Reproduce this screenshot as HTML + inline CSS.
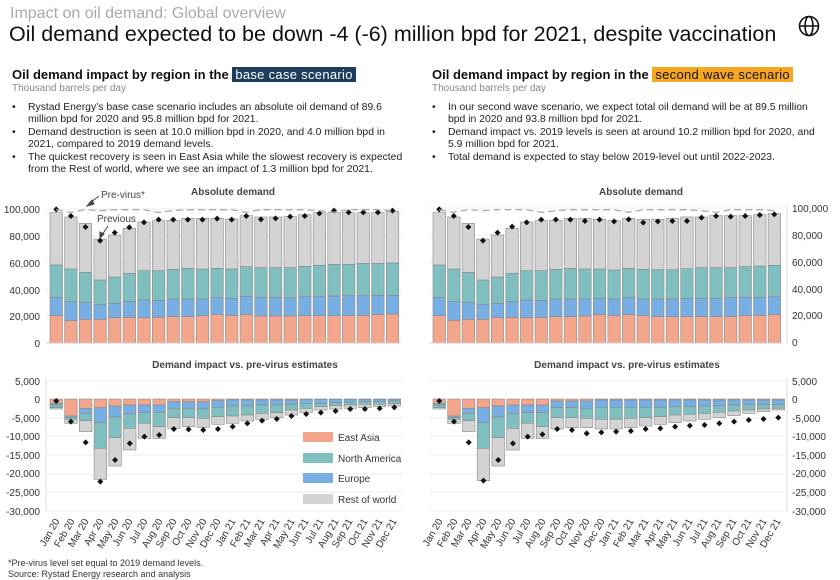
<!DOCTYPE html>
<html><head><meta charset="utf-8"><style>
body{margin:0;width:840px;height:580px;background:#fff;font-family:"Liberation Sans",Arial,sans-serif;overflow:hidden;position:relative}
.t{position:absolute;white-space:nowrap}
ul{margin:0;padding:0;list-style:none}
li{position:relative;padding-left:22px;font-size:10.4px;line-height:12.4px;color:#222}
li:before{content:"•";position:absolute;left:6px}
</style></head><body>
<div class="t" style="left:10px;top:5px;font-size:16px;color:#aaa">Impact on oil demand: Global overview</div>
<div class="t" style="left:9px;top:22px;font-size:21.5px;color:#111">Oil demand expected to be down -4 (-6) million bpd for 2021, despite vaccination</div>
<svg style="position:absolute;left:798px;top:15px" width="22" height="22" viewBox="0 0 22 22"><g fill="none" stroke="#111" stroke-width="1.6"><circle cx="11" cy="11" r="9.5"/><ellipse cx="11" cy="11" rx="4" ry="9.5"/><line x1="1.5" y1="11" x2="20.5" y2="11"/></g></svg>

<div class="t" style="left:12px;top:67px;font-size:13px;font-weight:bold;color:#111">Oil demand impact by region in the <span style="background:#1d3d5c;color:#fff;font-weight:normal;padding:0 3px;letter-spacing:0.3px">base case scenario</span></div>
<div class="t" style="left:12px;top:83px;font-size:10px;color:#888">Thousand barrels per day</div>
<ul style="position:absolute;left:6px;top:102px;width:400px">
<li>Rystad Energy’s base case scenario includes an absolute oil demand of 89.6 million bpd for 2020 and 95.8 million bpd for 2021.</li>
<li>Demand destruction is seen at 10.0 million bpd in 2020, and 4.0 million bpd in 2021, compared to 2019 demand levels.</li>
<li>The quickest recovery is seen in East Asia while the slowest recovery is expected from the Rest of world, where we see an impact of 1.3 million bpd for 2021.</li>
</ul>

<div class="t" style="left:432px;top:67px;font-size:13px;font-weight:bold;color:#111">Oil demand impact by region in the <span style="background:#f7a823;color:#111;font-weight:normal;padding:0 3px;letter-spacing:0.3px">second wave scenario</span></div>
<div class="t" style="left:432px;top:83px;font-size:10px;color:#888">Thousand barrels per day</div>
<ul style="position:absolute;left:426px;top:102px;width:400px">
<li>In our second wave scenario, we expect total oil demand will be at 89.5 million bpd in 2020 and 93.8 million bpd for 2021.</li>
<li>Demand impact vs. 2019 levels is seen at around 10.2 million bpd for 2020, and 5.9 million bpd for 2021.</li>
<li>Total demand is expected to stay below 2019-level out until 2022-2023.</li>
</ul>

<svg id="c" style="position:absolute;left:0;top:0" width="840" height="580" font-family="Liberation Sans, Arial, sans-serif">
<g id="bars"></g>
<g font-size="10" font-weight="bold" fill="#444" text-anchor="middle">
<text x="233" y="195">Absolute demand</text>
<text x="641" y="195">Absolute demand</text>
<text x="245" y="368">Demand impact vs. pre-virus estimates</text>
<text x="627" y="368">Demand impact vs. pre-virus estimates</text>
</g>
<g font-size="10" fill="#333" text-anchor="end">
<text x="40" y="213">100,000</text><text x="40" y="240">80,000</text><text x="40" y="267">60,000</text><text x="40" y="294">40,000</text><text x="40" y="320">20,000</text><text x="40" y="347">0</text>
<text x="40" y="385">5,000</text><text x="40" y="403">0</text><text x="40" y="422">-5,000</text><text x="40" y="440">-10,000</text><text x="40" y="459">-15,000</text><text x="40" y="477">-20,000</text><text x="40" y="496">-25,000</text><text x="40" y="515">-30,000</text>
</g>
<g font-size="10" fill="#333" text-anchor="start">
<text x="792" y="212">100,000</text><text x="792" y="239">80,000</text><text x="792" y="266">60,000</text><text x="792" y="293">40,000</text><text x="792" y="319">20,000</text><text x="792" y="346">0</text>
<text x="792" y="385">5,000</text><text x="792" y="403">0</text><text x="792" y="422">-5,000</text><text x="792" y="440">-10,000</text><text x="792" y="459">-15,000</text><text x="792" y="477">-20,000</text><text x="792" y="496">-25,000</text><text x="792" y="515">-30,000</text>
</g>
<g font-size="10" fill="#444">
<text x="101" y="198">Pre-virus*</text>
<text x="97" y="222">Previous</text>
</g>
<g stroke="#444" stroke-width="1" fill="#444">
<line x1="99" y1="196" x2="90" y2="203"/><polygon points="87,206 92,200 94,204"/>
<line x1="108" y1="226" x2="102" y2="235"/><polygon points="100,238 100,232 104,234"/>
</g>
<g font-size="10" fill="#333">
<rect x="303" y="432" width="30" height="10" fill="#f4a68c"/><text x="338" y="441">East Asia</text>
<rect x="303" y="453" width="30" height="10" fill="#7fbfbf"/><text x="338" y="462">North America</text>
<rect x="303" y="473" width="30" height="10" fill="#77aee3"/><text x="338" y="482">Europe</text>
<rect x="303" y="494" width="30" height="10" fill="#d3d3d3"/><text x="338" y="503">Rest of world</text>
</g>
<g font-size="10" fill="#333" text-anchor="end">
<text transform="translate(60,521) rotate(-60)">Jan 20</text><text transform="translate(75,521) rotate(-60)">Feb 20</text><text transform="translate(89,521) rotate(-60)">Mar 20</text><text transform="translate(104,521) rotate(-60)">Apr 20</text><text transform="translate(119,521) rotate(-60)">May 20</text><text transform="translate(133,521) rotate(-60)">Jun 20</text><text transform="translate(148,521) rotate(-60)">Jul 20</text><text transform="translate(163,521) rotate(-60)">Aug 20</text><text transform="translate(177,521) rotate(-60)">Sep 20</text><text transform="translate(192,521) rotate(-60)">Oct 20</text><text transform="translate(207,521) rotate(-60)">Nov 20</text><text transform="translate(221,521) rotate(-60)">Dec 20</text><text transform="translate(236,521) rotate(-60)">Jan 21</text><text transform="translate(251,521) rotate(-60)">Feb 21</text><text transform="translate(265,521) rotate(-60)">Mar 21</text><text transform="translate(280,521) rotate(-60)">Apr 21</text><text transform="translate(295,521) rotate(-60)">May 21</text><text transform="translate(309,521) rotate(-60)">Jun 21</text><text transform="translate(324,521) rotate(-60)">Jul 21</text><text transform="translate(339,521) rotate(-60)">Aug 21</text><text transform="translate(353,521) rotate(-60)">Sep 21</text><text transform="translate(368,521) rotate(-60)">Oct 21</text><text transform="translate(383,521) rotate(-60)">Nov 21</text><text transform="translate(397,521) rotate(-60)">Dec 21</text>
</g>
<g font-size="10" fill="#333" text-anchor="end">
<text transform="translate(443,521) rotate(-60)">Jan 20</text><text transform="translate(458,521) rotate(-60)">Feb 20</text><text transform="translate(472,521) rotate(-60)">Mar 20</text><text transform="translate(487,521) rotate(-60)">Apr 20</text><text transform="translate(502,521) rotate(-60)">May 20</text><text transform="translate(516,521) rotate(-60)">Jun 20</text><text transform="translate(531,521) rotate(-60)">Jul 20</text><text transform="translate(546,521) rotate(-60)">Aug 20</text><text transform="translate(561,521) rotate(-60)">Sep 20</text><text transform="translate(575,521) rotate(-60)">Oct 20</text><text transform="translate(590,521) rotate(-60)">Nov 20</text><text transform="translate(605,521) rotate(-60)">Dec 20</text><text transform="translate(619,521) rotate(-60)">Jan 21</text><text transform="translate(634,521) rotate(-60)">Feb 21</text><text transform="translate(649,521) rotate(-60)">Mar 21</text><text transform="translate(664,521) rotate(-60)">Apr 21</text><text transform="translate(678,521) rotate(-60)">May 21</text><text transform="translate(693,521) rotate(-60)">Jun 21</text><text transform="translate(708,521) rotate(-60)">Jul 21</text><text transform="translate(722,521) rotate(-60)">Aug 21</text><text transform="translate(737,521) rotate(-60)">Sep 21</text><text transform="translate(752,521) rotate(-60)">Oct 21</text><text transform="translate(767,521) rotate(-60)">Nov 21</text><text transform="translate(781,521) rotate(-60)">Dec 21</text>
</g>
<g font-size="9" fill="#333">
<text x="8" y="566">*Pre-virus level set equal to 2019 demand levels.</text>
<text x="8" y="577">Source: Rystad Energy research and analysis</text>
</g>
</svg>
<script>
(function(){
var NS="http://www.w3.org/2000/svg",G=document.getElementById("bars");
function el(t,a){var e=document.createElementNS(NS,t);for(var k in a)e.setAttribute(k,a[k]);G.appendChild(e);return e;}
var C=["#f4a68c","#77aee3","#7fbfbf","#d3d3d3"];
var TL=[[407,352,255,98,88],[422,365,267,111,108],[418,367,277,130,141],[418,373,300,177,182],[413,370,291,165,158],[412,364,280,145,142],[413,360,272,126,127],[412,361,272,122,119],[410,357,268,121,119],[410,357,265,115,119],[407,357,267,115,119],[404,353,265,115,116],[406,355,267,117,119],[404,349,260,107,108],[408,352,263,111,118],[408,352,263,111,115],[408,354,263,110,110],[407,350,259,104,108],[407,350,256,98,100],[407,348,253,98,92],[407,347,253,98,97],[406,347,250,98,97],[404,346,250,98,97],[402,346,249,94,92]];
var TR=[[407,352,255,98,88],[421,365,267,111,108],[418,367,277,130,141],[418,373,300,177,182],[413,370,291,165,158],[412,364,280,145,140],[413,360,272,126,127],[412,361,272,122,119],[410,357,268,121,119],[410,357,265,115,119],[408,357,267,115,123],[404,355,267,118,119],[406,357,270,122,124],[404,352,265,115,118],[407,357,268,118,128],[410,357,269,118,124],[410,357,269,115,123],[410,355,266,111,123],[410,355,263,111,113],[410,355,263,107,108],[410,353,263,107,110],[407,352,260,107,108],[406,352,258,104,105],[404,350,256,101,103]];
var BL=[[145,150,158,162,138],[183,188,193,205,200],[160,175,197,230,262],[158,203,280,373,380],[153,186,248,333,315],[150,177,220,285,265],[150,173,205,250,245],[150,172,215,250,240],[140,160,188,220,222],[140,160,188,215,223],[140,162,190,217,225],[137,157,185,208,222],[135,153,183,205,215],[135,153,180,198,205],[135,150,175,193,197],[135,150,173,188,192],[135,148,165,180,183],[133,145,160,172,177],[133,145,155,165,173],[133,143,152,162,168],[133,142,150,160,162],[133,140,148,158,162],[133,140,148,155,160],[133,138,146,153,157]];
var BR=[[145,150,158,162,138],[183,188,193,205,200],[160,175,197,230,262],[158,203,280,377,377],[153,186,248,333,315],[150,177,220,285,265],[150,173,205,250,245],[150,172,215,250,238],[138,158,188,222,222],[138,158,188,218,225],[138,160,190,218,235],[135,157,193,222,232],[135,157,193,222,230],[135,157,190,218,228],[135,157,188,213,222],[135,157,185,208,220],[135,155,180,203,215],[135,155,178,198,212],[135,153,175,193,210],[135,152,172,188,205],[135,150,168,182,200],[135,148,165,175,195],[135,148,162,170,192],[135,148,160,165,188]];
function grid(x0,x1,ys){ys.forEach(function(y){el("line",{x1:x0,x2:x1,y1:y,y2:y,stroke:"#eee","stroke-width":1});});}
grid(46,402,[209,236,263,290,316]);grid(430,786,[208,235,262,289,316]);
grid(46,402,[381,418,436,455,474,492,511]);grid(430,786,[381,418,436,455,474,492,511]);
function drawTop(D,x0,p,off){
 for(var i=0;i<24;i++){var d=D[i],x=x0+i*p,prev=489;
  for(var s=0;s<4;s++){var y=d[s];el("rect",{x:x,y:off+y/3,width:12.5,height:(prev-y)/3,fill:C[s],stroke:"#888","stroke-width":0.6});prev=y;}
 }
 for(var i=0;i<24;i++){var d=D[i];el("path",{d:"M"+(x0+i*p+6.25)+","+(off+d[4]/3-3)+"l3,3l-3,3l-3,-3z",fill:"#111"});}
 el("line",{x1:x0-4,x2:x0+24*p,y1:343,y2:343,stroke:"#ccc"});
 var pts=[];for(var i=0;i<24;i++){pts.push((x0+i*p+6)+","+(off+(i%6==1?97:i%5==3?92:89)/3));}
 el("polyline",{points:pts.join(" "),fill:"none",stroke:"#aaa","stroke-width":1.3,"stroke-dasharray":"7,4"});
}
function drawBot(D,x0,p){
 for(var i=0;i<24;i++){var d=D[i],x=x0+i*p,prev=132;
  for(var s=0;s<4;s++){var y=d[s];el("rect",{x:x,y:355+prev/3,width:12.5,height:Math.max(0,(y-prev)/3),fill:C[s],stroke:"#888","stroke-width":0.6});prev=y;}
 }
 for(var i=0;i<24;i++){var d=D[i];el("path",{d:"M"+(x0+i*p+6.25)+","+(355+d[4]/3-3)+"l3,3l-3,3l-3,-3z",fill:"#111"});}
}
drawTop(TL,50,14.62,180);drawTop(TR,433,14.57,180);
drawBot(BL,50,14.7);drawBot(BR,433,14.74);
el("line",{x1:46,x2:46,y1:378,y2:512,stroke:"#ddd"});el("line",{x1:787,x2:787,y1:378,y2:512,stroke:"#ddd"});
el("line",{x1:787,x2:787,y1:205,y2:344,stroke:"#ddd"});
})();
</script>
</body></html>
